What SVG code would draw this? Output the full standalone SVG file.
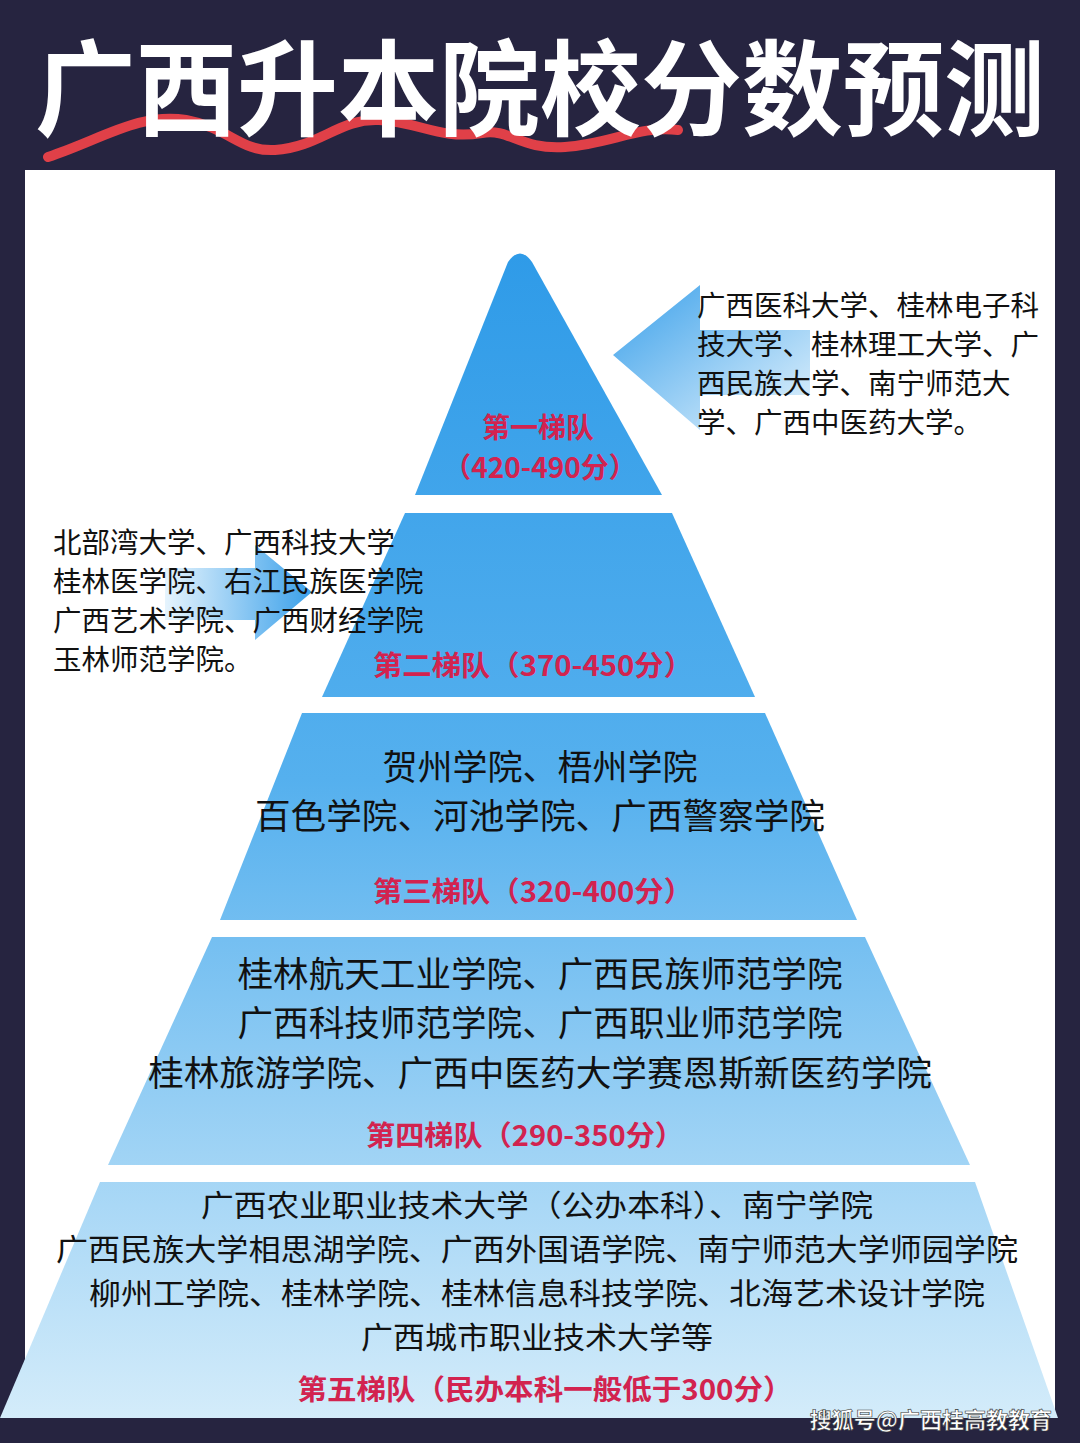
<svg xmlns="http://www.w3.org/2000/svg" width="1080" height="1443" viewBox="0 0 1080 1443">
<defs>
<linearGradient id="pg" gradientUnits="userSpaceOnUse" x1="0" y1="255" x2="0" y2="1420">
<stop offset="0" stop-color="#2f9be8"/><stop offset="0.45" stop-color="#55b0ee"/><stop offset="1" stop-color="#d4ecfa"/>
</linearGradient>
<linearGradient id="a1" x1="0" y1="0" x2="1" y2="1">
<stop offset="0" stop-color="#3aa0ea"/><stop offset="1" stop-color="#e6f4fd"/>
</linearGradient>
<linearGradient id="a2" x1="0" y1="0" x2="1" y2="0">
<stop offset="0" stop-color="#e6f4fd"/><stop offset="1" stop-color="#3aa0ea"/>
</linearGradient>
<style>
.t{font-family:"Noto Sans CJK SC",sans-serif;fill:#111;}
.s{font-size:28.5px;}
.m{font-size:35px;text-anchor:middle;}
.f{font-size:30px;text-anchor:middle;}
.r{font-family:"Noto Sans CJK SC",sans-serif;fill:#d2234f;font-weight:bold;font-size:28px;text-anchor:middle;}
.tier{fill:url(#pg);}
</style>
</defs>
<rect width="1080" height="1443" fill="#262440"/>
<rect x="25" y="170" width="1030" height="1248" fill="#ffffff"/>
<g id="title">
<path d="M48,157 C100,140 140,112 186,120 C230,128 240,152 275,150 C320,147 340,118 379,120 C420,122 440,140 482,133 C510,128 520,150 565,147 C610,144 640,125 678,130" fill="none" stroke="#e04048" stroke-width="10" stroke-linecap="round"/>
<text x="540" y="128" font-family="Noto Sans CJK SC,sans-serif" font-size="104" font-weight="bold" fill="#ffffff" text-anchor="middle" textLength="1010" lengthAdjust="spacingAndGlyphs">广西升本院校分数预测</text>
</g>
<g id="connectors">
<path d="M613,355 L700,285 L700,330 L810,330 L810,395 L700,395 L700,430 Z" fill="url(#a1)"/>
<path d="M165,568 L255,568 L255,545 L312,592 L255,640 L255,620 L165,620 Z" fill="url(#a2)"/>
</g>
<g id="tier1">
<path class="tier" d="M508,262 Q520,245 532,262 L662,495 L415,495 Z"/>
<text class="r" x="538" y="438">第一梯队</text>
<text class="r" x="540" y="478" font-weight="normal">（420-490分）</text>
</g>
<g id="tier2">
<path class="tier" d="M405,513 L672,513 L755,697 L322,697 Z"/>
<text class="r" x="533" y="676" textLength="320" lengthAdjust="spacingAndGlyphs">第二梯队（370-450分）</text>
</g>
<g id="tier3">
<path class="tier" d="M302,713 L765,713 L857,920 L220,920 Z"/>
<text class="t m" x="540" y="780">贺州学院、梧州学院</text>
<text class="t m" x="540" y="829" textLength="570" lengthAdjust="spacingAndGlyphs">百色学院、河池学院、广西警察学院</text>
<text class="r" x="533" y="902" textLength="320" lengthAdjust="spacingAndGlyphs">第三梯队（320-400分）</text>
</g>
<g id="tier4">
<path class="tier" d="M212,937 L865,937 L970,1165 L108,1165 Z"/>
<text class="t m" x="540" y="987" textLength="605" lengthAdjust="spacingAndGlyphs">桂林航天工业学院、广西民族师范学院</text>
<text class="t m" x="540" y="1036" textLength="605" lengthAdjust="spacingAndGlyphs">广西科技师范学院、广西职业师范学院</text>
<text class="t m" x="540" y="1086" textLength="784" lengthAdjust="spacingAndGlyphs">桂林旅游学院、广西中医药大学赛恩斯新医药学院</text>
<text class="r" x="525" y="1146" textLength="318" lengthAdjust="spacingAndGlyphs">第四梯队（290-350分）</text>
</g>
<g id="tier5">
<path class="tier" d="M100,1182 L975,1182 L1058,1418 L0,1418 Z"/>
<text class="t f" x="537" y="1216" textLength="672" lengthAdjust="spacingAndGlyphs">广西农业职业技术大学（公办本科）、南宁学院</text>
<text class="t f" x="537" y="1260" textLength="962" lengthAdjust="spacingAndGlyphs">广西民族大学相思湖学院、广西外国语学院、南宁师范大学师园学院</text>
<text class="t f" x="537" y="1304" textLength="896" lengthAdjust="spacingAndGlyphs">柳州工学院、桂林学院、桂林信息科技学院、北海艺术设计学院</text>
<text class="t f" x="537" y="1348" textLength="352" lengthAdjust="spacingAndGlyphs">广西城市职业技术大学等</text>
<text class="r" x="545" y="1400" textLength="495" lengthAdjust="spacingAndGlyphs">第五梯队（民办本科一般低于300分）</text>
</g>
<g id="side1">
<text class="t s" x="697" y="316">广西医科大学、桂林电子科</text>
<text class="t s" x="697" y="355">技大学、桂林理工大学、广</text>
<text class="t s" x="697" y="394">西民族大学、南宁师范大</text>
<text class="t s" x="697" y="433">学、广西中医药大学。</text>
</g>
<g id="side2">
<text class="t s" x="53" y="553">北部湾大学、广西科技大学</text>
<text class="t s" x="53" y="592">桂林医学院、右江民族医学院</text>
<text class="t s" x="53" y="631">广西艺术学院、广西财经学院</text>
<text class="t s" x="53" y="670">玉林师范学院。</text>
</g>
<text x="1052" y="1428" font-family="Noto Sans CJK SC,sans-serif" font-size="22" font-weight="bold" fill="#ffffff" stroke="#333" stroke-width="0.6" text-anchor="end">搜狐号@广西桂高教教育</text>
</svg>
